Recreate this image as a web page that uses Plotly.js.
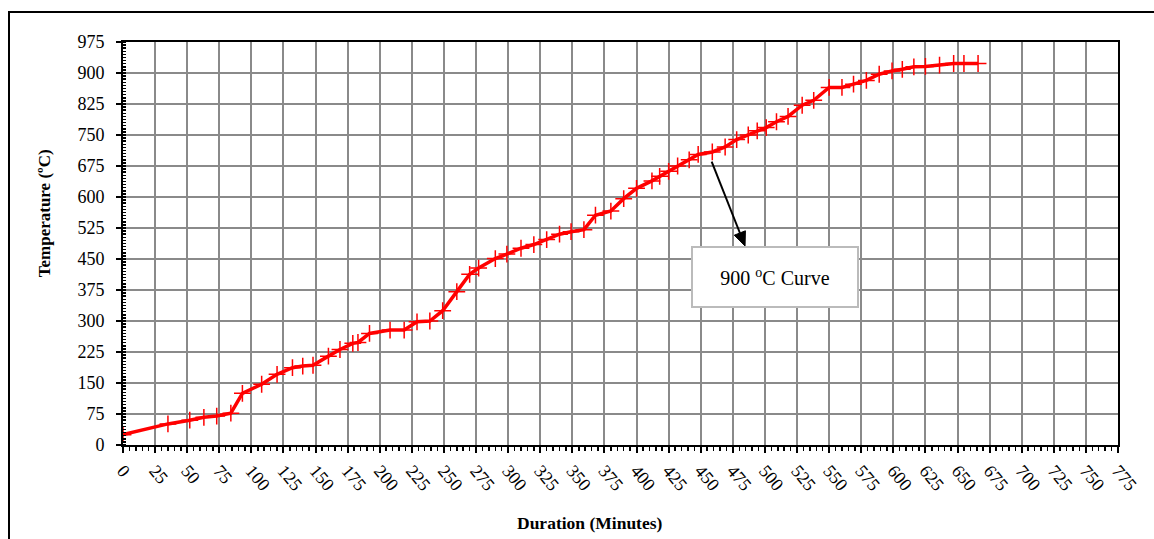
<!DOCTYPE html>
<html>
<head>
<meta charset="utf-8">
<script src="https://cdn.plot.ly/plotly-3.0.1.min.js"></script>
<style>
html,body{margin:0;padding:0;background:#fff;}
#frame{position:absolute;left:8px;top:11px;width:1160px;height:540px;border-left:2px solid #000;border-top:2px solid #000;pointer-events:none;z-index:5;}
#chart{width:1154px;height:539px;}
</style>
</head>
<body>
<div id="chart"></div>
<div id="frame"></div>
<script>
// Duration (minutes)
const duration = [0, 35, 52, 63, 73, 84, 93, 108, 120, 132, 140, 148, 160, 169, 179, 183, 192, 208, 219, 229, 239, 249, 260, 270, 277, 290, 299, 310, 320, 330, 340, 349, 359, 368, 380, 390, 400, 412, 418, 425, 432, 441, 448, 459, 469, 478, 487, 494, 501, 509, 518, 529, 538, 550, 560, 569, 579, 589, 599, 607, 616, 625, 636, 647, 655, 666];
// Temperature (°C)
const temperature = [25, 51, 60, 67, 70, 77, 125, 147, 171, 187, 191, 193, 215, 231, 246, 248, 270, 278, 278, 298, 300, 325, 371, 413, 428, 451, 462, 476, 485, 497, 510, 516, 521, 556, 566, 596, 621, 639, 650, 662, 675, 690, 703, 709, 721, 739, 750, 760, 768, 782, 795, 822, 834, 865, 865, 873, 882, 897, 905, 909, 915, 916, 919, 923, 923, 923];

const seriesName = "900 °C Curve";
const xTitle = "Duration (Minutes)";
const yTitle = "Temperature (ºC)";

const FONT = "Liberation Serif, Times New Roman, serif";

const trace = {
  x: duration,
  y: temperature,
  type: 'scatter',
  mode: 'lines+markers',
  name: seriesName,
  line: {color: '#ff0000', width: 3.5},
  marker: {symbol: 'cross-thin', size: 12, color: '#ff0000', line: {color: '#ff0000', width: 1.5}},
  showlegend: false
};

const layout = {
  width: 1154, height: 539,
  margin: {l: 123, r: 36, t: 42, b: 94},
  paper_bgcolor: '#fff', plot_bgcolor: '#fff',
  font: {family: FONT, color: '#000', size: 18},
  xaxis: {
    range: [0, 775], dtick: 25, tick0: 0,
    showgrid: true, gridcolor: '#8a8a8a', gridwidth: 2,
    showline: true, linecolor: '#000', linewidth: 2, mirror: true,
    ticks: 'outside', ticklen: 6, tickwidth: 2, tickcolor: '#000',
    tickangle: 50, tickfont: {family: FONT, size: 18},
    minor: {dtick: 5, ticks: 'outside', ticklen: 4, tickwidth: 1.5, tickcolor: '#000', showgrid: false},
    zeroline: false, fixedrange: true
  },
  yaxis: {
    range: [0, 975], dtick: 75, tick0: 0,
    showgrid: true, gridcolor: '#8a8a8a', gridwidth: 2,
    showline: true, linecolor: '#000', linewidth: 2, mirror: true,
    ticks: 'outside', ticklen: 5, tickwidth: 2, tickcolor: '#000',
    tickfont: {family: FONT, size: 18}, ticklabelstandoff: 8,
    minor: {dtick: 7.5, ticks: 'inside', ticklen: 3, tickwidth: 1.5, tickcolor: '#000', showgrid: false},
    zeroline: false, fixedrange: true
  },
  shapes: [
    {type: 'line', xref: 'x', yref: 'y', x0: 458.5, y0: 685.4, x1: 480.5, y1: 512.9,
     line: {color: '#000', width: 2}},
    {type: 'path', xref: 'x', yref: 'y', path: 'M 476.1,507.6 L 484.5,481.5 L 484.8,518.2 Z',
     fillcolor: '#000', line: {color: '#000', width: 1}}
  ],
  annotations: [
    {
      xref: 'paper', yref: 'paper', x: 0.4693, y: -0.1935,
      xanchor: 'center', yanchor: 'middle', showarrow: false,
      text: '<b>' + xTitle + '</b>', font: {family: FONT, size: 17.5}
    },
    {
      xref: 'paper', yref: 'paper', x: -0.0794, y: 0.575,
      xanchor: 'center', yanchor: 'middle', showarrow: false, textangle: -90,
      text: '<b>' + yTitle + '</b>', font: {family: FONT, size: 17}
    },
    {
      xref: 'x', yref: 'y', x: 507.7, y: 407,
      xanchor: 'center', yanchor: 'middle', showarrow: false,
      text: '900 <sup>o</sup>C Curve', font: {family: FONT, size: 20},
      bgcolor: '#fff', bordercolor: '#bbbbbb', borderwidth: 2,
      width: 162, height: 56
    }
  ]
};

Plotly.newPlot('chart', [trace], layout, {staticPlot: true, displayModeBar: false});
</script>
</body>
</html>
